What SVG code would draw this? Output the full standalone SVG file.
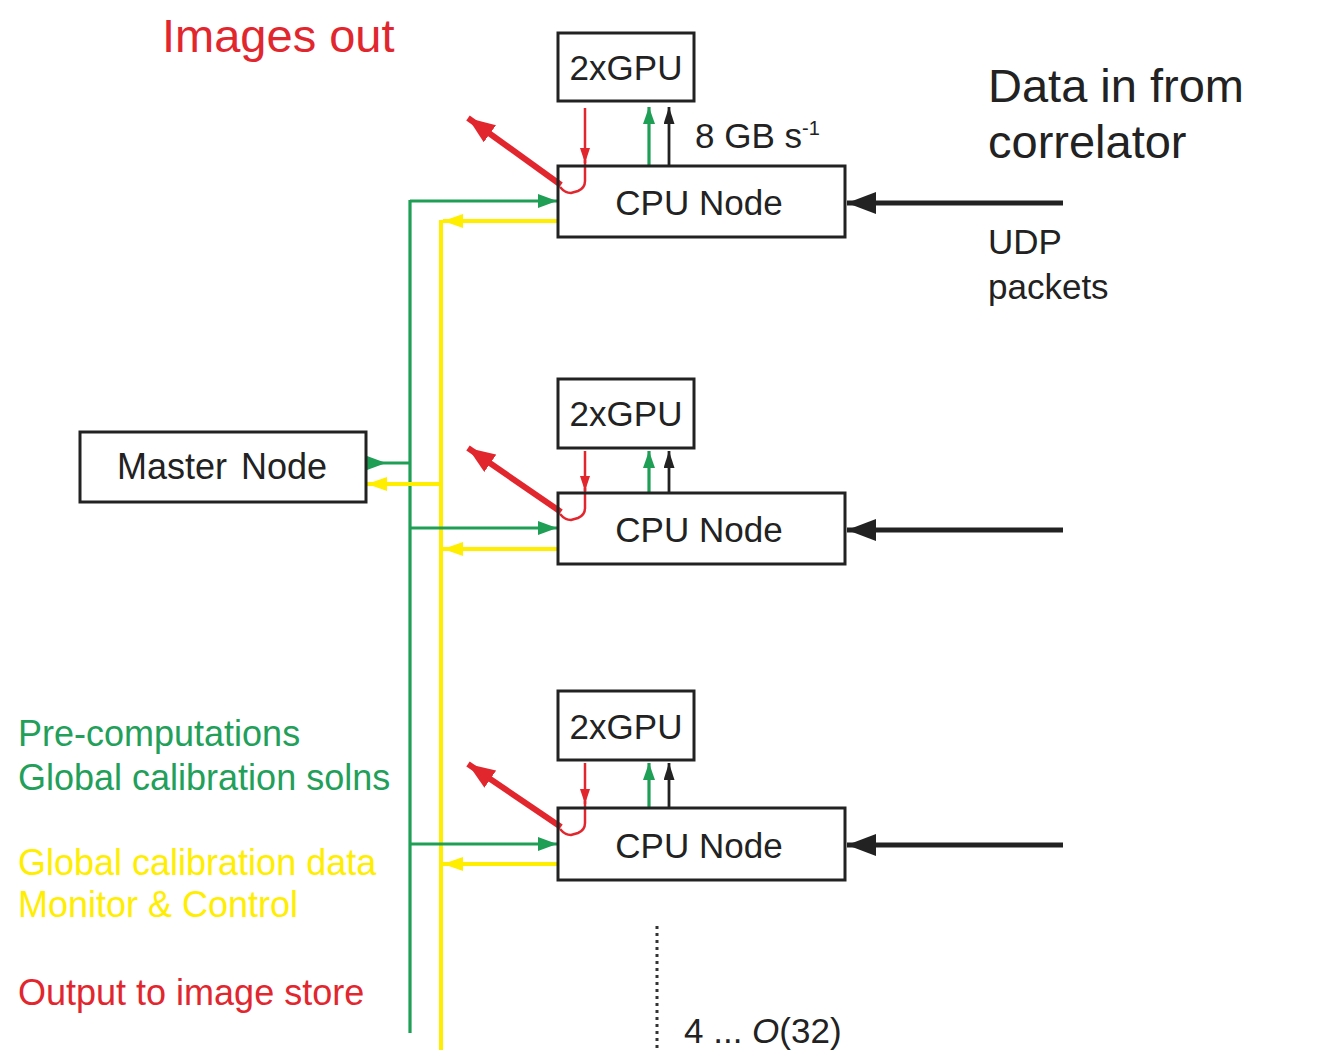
<svg xmlns="http://www.w3.org/2000/svg" width="1320" height="1050" viewBox="0 0 1320 1050">
  <style>
    text { font-family: "Liberation Sans", Arial, sans-serif; fill: #222; }
    .box { fill: #fff; stroke: #222; stroke-width: 3; }
    .lbl { font-size: 35px; text-anchor: middle; }
    .big { font-size: 47px; }
    .side { font-size: 36px; }
    .green { stroke: #1f9e55; stroke-width: 3.2; fill: none; }
    .yellow { stroke: #ffee00; stroke-width: 4; fill: none; }
    .red { stroke: #e2262e; stroke-width: 2.5; fill: none; }
    .redthick { stroke: #e2262e; stroke-width: 6; fill: none; }
    .black { stroke: #222; stroke-width: 2.8; fill: none; }
    .blackthick { stroke: #222; stroke-width: 5; fill: none; }
  </style>
  <defs>
    <marker id="ahGreen" viewBox="0 0 10 10" refX="10" refY="5" preserveAspectRatio="none" markerUnits="userSpaceOnUse" markerWidth="19" markerHeight="14" orient="auto">
      <path d="M0,0 L10,5 L0,10 Z" fill="#1f9e55"/>
    </marker>
    <marker id="ahGreenOut" viewBox="0 0 10 10" refX="0" refY="5" preserveAspectRatio="none" markerUnits="userSpaceOnUse" markerWidth="19" markerHeight="14" orient="auto">
      <path d="M0,0 L10,5 L0,10 Z" fill="#1f9e55"/>
    </marker>
    <marker id="ahGreenUp" viewBox="0 0 10 10" refX="10" refY="5" preserveAspectRatio="none" markerUnits="userSpaceOnUse" markerWidth="17" markerHeight="12" orient="auto">
      <path d="M0,0 L10,5 L0,10 Z" fill="#1f9e55"/>
    </marker>
    <marker id="ahYellow" viewBox="0 0 10 10" refX="10" refY="5" preserveAspectRatio="none" markerUnits="userSpaceOnUse" markerWidth="20" markerHeight="14" orient="auto">
      <path d="M0,0 L10,5 L0,10 Z" fill="#ffee00"/>
    </marker>
    <marker id="ahRed" viewBox="0 0 10 10" refX="10" refY="5" preserveAspectRatio="none" markerUnits="userSpaceOnUse" markerWidth="15" markerHeight="10" orient="auto">
      <path d="M0,0 L10,5 L0,10 Z" fill="#e2262e"/>
    </marker>
    <marker id="ahRedBig" viewBox="0 0 10 10" refX="10" refY="5" preserveAspectRatio="none" markerUnits="userSpaceOnUse" markerWidth="27" markerHeight="21" orient="auto">
      <path d="M0,0 L10,5 L0,10 Z" fill="#e2262e"/>
    </marker>
    <marker id="ahBlack" viewBox="0 0 10 10" refX="10" refY="5" preserveAspectRatio="none" markerUnits="userSpaceOnUse" markerWidth="17" markerHeight="11" orient="auto">
      <path d="M0,0 L10,5 L0,10 Z" fill="#222"/>
    </marker>
    <marker id="ahBlackBig" viewBox="0 0 10 10" refX="10" refY="5" preserveAspectRatio="none" markerUnits="userSpaceOnUse" markerWidth="29" markerHeight="22" orient="auto">
      <path d="M0,0 L10,5 L0,10 Z" fill="#222"/>
    </marker>
  </defs>

  <rect width="1320" height="1050" fill="#fff"/>

  <!-- Free labels -->
  <text class="big" x="162" y="52" style="fill:#e2262e">Images out</text>
  <text class="big" x="988" y="102">Data in from</text>
  <text class="big" x="988" y="158">correlator</text>
  <text class="lbl" x="988" y="254" style="text-anchor:start">UDP</text>
  <text class="lbl" x="988" y="299" style="text-anchor:start">packets</text>
  <text class="side" x="18" y="746" style="fill:#22a05a">Pre-computations</text>
  <text class="side" x="18" y="790" style="fill:#22a05a">Global calibration solns</text>
  <text class="side" x="18" y="875" style="fill:#ffee00">Global calibration data</text>
  <text class="side" x="18" y="917" style="fill:#ffee00">Monitor &amp; Control</text>
  <text class="side" x="18" y="1005" style="fill:#e2262e">Output to image store</text>
  <text class="lbl" x="695" y="148" style="text-anchor:start">8 GB s<tspan font-size="20" dy="-13">-1</tspan></text>
  <text class="lbl" x="684" y="1043" style="text-anchor:start">4 ... <tspan font-style="italic">O</tspan>(32)</text>

  <!-- Connectors -->
  <g id="connectors">
    <!-- shared buses -->
    <line class="green" x1="410" y1="200" x2="410" y2="1033"/>
    <line class="yellow" x1="441" y1="220" x2="441" y2="1050"/>
    <!-- master node links -->
    <line class="green" x1="367" y1="463" x2="410" y2="463" marker-start="url(#ahGreenOut)"/>
    <line class="yellow" x1="441" y1="484" x2="367" y2="484" marker-end="url(#ahYellow)"/>

    <!-- node 1 -->
    <line class="green" x1="410" y1="201" x2="557" y2="201" marker-end="url(#ahGreen)"/>
    <line class="yellow" x1="557" y1="221" x2="443" y2="221" marker-end="url(#ahYellow)"/>
    <line class="red" x1="585" y1="108" x2="585" y2="163" marker-end="url(#ahRed)"/>
    <path class="red" d="M585,160 V181 Q585,188 578,191 L571,193 Q565,193 560,187" stroke-width="3"/>
    <line class="redthick" x1="561" y1="185" x2="468" y2="118" marker-end="url(#ahRedBig)"/>
    <line class="green" x1="649" y1="166" x2="649" y2="107" marker-end="url(#ahGreenUp)"/>
    <line class="black" x1="669" y1="166" x2="669" y2="107" marker-end="url(#ahBlack)"/>
    <line class="blackthick" x1="1063" y1="203" x2="847" y2="203" marker-end="url(#ahBlackBig)"/>

    <!-- node 2 -->
    <line class="green" x1="410" y1="528" x2="557" y2="528" marker-end="url(#ahGreen)"/>
    <line class="yellow" x1="557" y1="549" x2="443" y2="549" marker-end="url(#ahYellow)"/>
    <line class="red" x1="585" y1="451" x2="585" y2="491" marker-end="url(#ahRed)"/>
    <path class="red" d="M585,488 V508 Q585,515 578,518 L571,520 Q565,520 560,514" stroke-width="3"/>
    <line class="redthick" x1="561" y1="512" x2="468" y2="448" marker-end="url(#ahRedBig)"/>
    <line class="green" x1="649" y1="493" x2="649" y2="451" marker-end="url(#ahGreenUp)"/>
    <line class="black" x1="669" y1="493" x2="669" y2="451" marker-end="url(#ahBlack)"/>
    <line class="blackthick" x1="1063" y1="530" x2="847" y2="530" marker-end="url(#ahBlackBig)"/>

    <!-- node 3 -->
    <line class="green" x1="410" y1="844" x2="557" y2="844" marker-end="url(#ahGreen)"/>
    <line class="yellow" x1="557" y1="864" x2="443" y2="864" marker-end="url(#ahYellow)"/>
    <line class="red" x1="585" y1="763" x2="585" y2="804" marker-end="url(#ahRed)"/>
    <path class="red" d="M585,801 V823 Q585,830 578,833 L571,835 Q565,835 560,829" stroke-width="3"/>
    <line class="redthick" x1="561" y1="827" x2="468" y2="764" marker-end="url(#ahRedBig)"/>
    <line class="green" x1="649" y1="808" x2="649" y2="763" marker-end="url(#ahGreenUp)"/>
    <line class="black" x1="669" y1="808" x2="669" y2="763" marker-end="url(#ahBlack)"/>
    <line class="blackthick" x1="1063" y1="845" x2="847" y2="845" marker-end="url(#ahBlackBig)"/>

    <!-- more nodes follow -->
    <line x1="657" y1="926" x2="657" y2="1050" stroke="#333" stroke-width="3" stroke-dasharray="3,4"/>
  </g>

  <!-- Nodes -->
  <g id="master">
    <rect class="box" x="80" y="432" width="286" height="70"/>
    <text class="lbl" x="222" y="479" word-spacing="4" style="font-size:36px">Master Node</text>
  </g>

  <g id="gpu1">
    <rect class="box" x="558" y="33" width="136" height="68"/>
    <text class="lbl" x="626" y="80">2xGPU</text>
  </g>
  <g id="cpu1">
    <rect class="box" x="558" y="166" width="287" height="71" fill-opacity="0"/>
    <text class="lbl" x="699" y="215">CPU Node</text>
  </g>

  <g id="gpu2">
    <rect class="box" x="558" y="379" width="136" height="69"/>
    <text class="lbl" x="626" y="426">2xGPU</text>
  </g>
  <g id="cpu2">
    <rect class="box" x="558" y="493" width="287" height="71" fill-opacity="0"/>
    <text class="lbl" x="699" y="542">CPU Node</text>
  </g>

  <g id="gpu3">
    <rect class="box" x="558" y="691" width="136" height="69"/>
    <text class="lbl" x="626" y="739">2xGPU</text>
  </g>
  <g id="cpu3">
    <rect class="box" x="558" y="808" width="287" height="72" fill-opacity="0"/>
    <text class="lbl" x="699" y="858">CPU Node</text>
  </g>
</svg>
